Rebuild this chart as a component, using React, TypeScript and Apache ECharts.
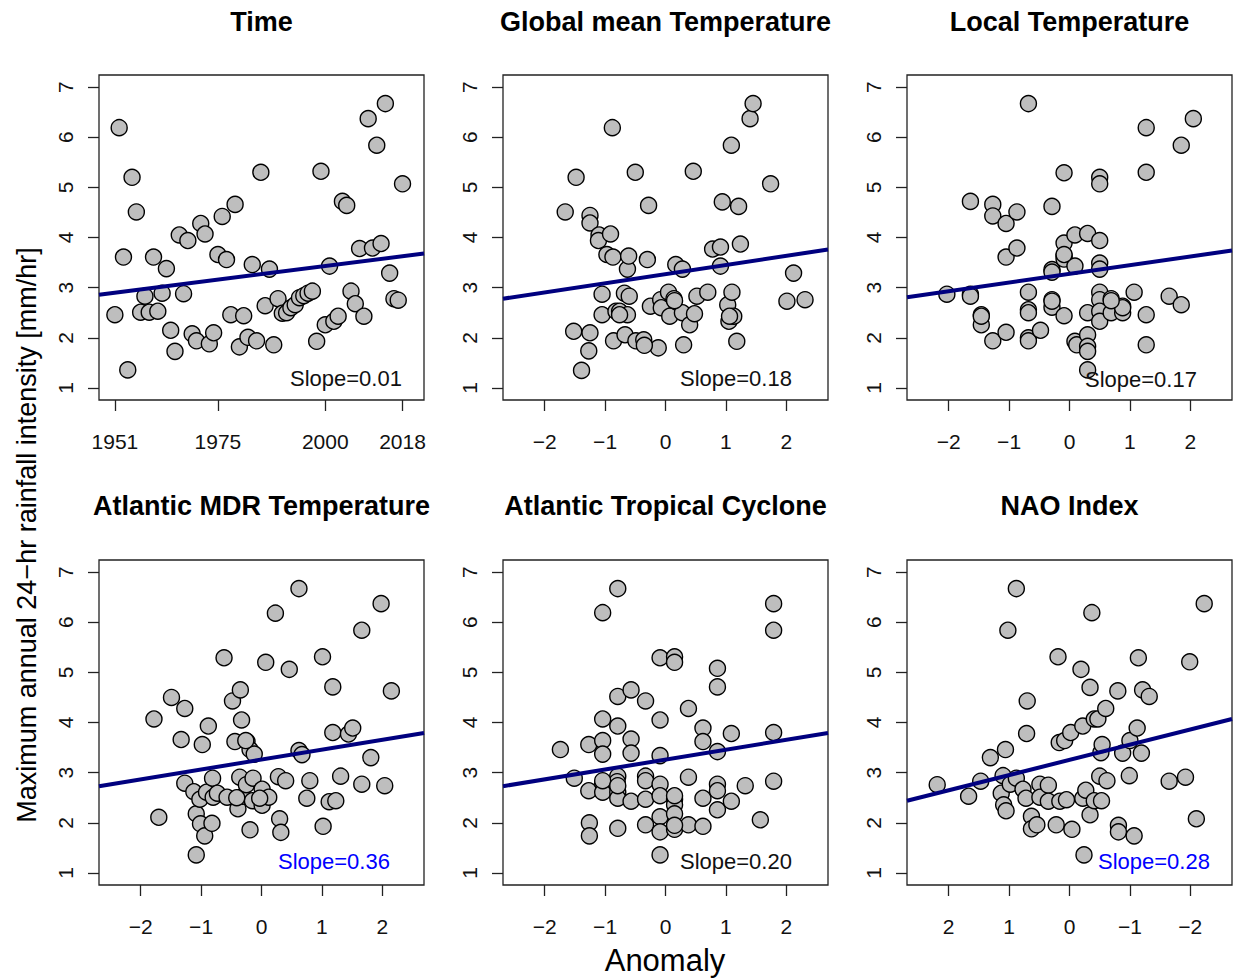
import React, { useEffect, useRef } from 'react';
import * as echarts from 'echarts';

// ---------------- data ----------------
const panelTitles = [
  'Time',
  'Global mean Temperature',
  'Local Temperature',
  'Atlantic MDR Temperature',
  'Atlantic Tropical Cyclone',
  'NAO Index',
];

const yearTicks = [1951, 1975, 2000, 2018];
const anomalyTicks = [-2, -1, 0, 1, 2];
const intensityTicks = [1, 2, 3, 4, 5, 6, 7];

const years = [
  1951, 1952, 1953, 1954, 1955, 1956, 1957, 1958, 1959, 1960,
  1961, 1962, 1963, 1964, 1965, 1966, 1967, 1968, 1969, 1970,
  1971, 1972, 1973, 1974, 1975, 1976, 1977, 1978, 1979, 1980,
  1981, 1982, 1983, 1984, 1985, 1986, 1987, 1988, 1989, 1990,
  1991, 1992, 1993, 1994, 1995, 1996, 1997, 1998, 1999, 2000,
  2001, 2002, 2003, 2004, 2005, 2006, 2007, 2008, 2009, 2010,
  2011, 2012, 2013, 2014, 2015, 2016, 2017, 2018,
];
const rainfall = [
  2.46, 6.19, 3.61, 1.36, 5.20, 4.51, 2.51, 2.83, 2.51, 3.61,
  2.53, 2.89, 3.38, 2.15, 1.73, 4.05, 2.88, 3.94, 2.08, 1.94,
  4.28, 4.07, 1.88, 2.10, 3.66, 4.42, 3.56, 2.46, 4.66, 1.82,
  2.44, 2.01, 3.46, 1.94, 5.30, 2.64, 3.37, 1.86, 2.78, 2.49,
  2.50, 2.60, 2.66, 2.80, 2.84, 2.89, 2.93, 1.93, 5.32, 2.26,
  3.43, 2.33, 2.43, 4.72, 4.64, 2.93, 2.68, 3.78, 2.43, 6.37,
  3.79, 5.84, 3.88, 6.67, 3.29, 2.78, 2.75, 5.07,
];

const gmtPoints = [
  [-1.66, 4.51], [-1.48, 5.20], [-1.52, 2.13], [-1.39, 1.35], [-1.27, 1.74], [-1.25, 2.10],
  [-1.25, 4.44], [-1.25, 4.29], [-1.10, 4.05], [-1.11, 3.94], [-0.91, 4.07], [-1.05, 2.87],
  [-1.05, 2.46], [-0.97, 3.66], [-0.87, 3.61], [-0.88, 6.19], [-0.86, 1.94], [-0.82, 2.53],
  [-0.76, 2.53], [-0.68, 2.89], [-0.67, 2.06], [-0.63, 3.37], [-0.61, 3.63], [-0.60, 2.83],
  [-0.63, 2.46], [-0.50, 5.30], [-0.49, 1.94], [-0.36, 1.96], [-0.30, 3.56], [-0.28, 4.64],
  [-0.25, 2.63], [-0.12, 1.80], [-0.08, 2.76], [-0.07, 2.60], [0.05, 2.91], [0.07, 2.43],
  [0.14, 2.78], [0.17, 3.46], [0.28, 3.37], [0.28, 2.50], [0.30, 1.86], [0.40, 2.26],
  [0.46, 5.32], [0.48, 2.48], [0.52, 2.83], [0.70, 2.91], [0.78, 3.77], [0.91, 3.81],
  [0.91, 3.43], [0.94, 4.71], [1.05, 2.33], [1.03, 2.66], [1.10, 2.91], [1.13, 2.43],
  [1.09, 5.84], [1.18, 1.93], [1.21, 4.62], [1.24, 3.87], [1.40, 6.37], [1.45, 6.67],
  [1.74, 5.07], [2.01, 2.73], [2.12, 3.29], [2.31, 2.76], [-0.35, 1.85], [0.15, 2.74],
  [1.06, 2.43], [-0.76, 2.46],
];

const localTPoints = [
  [-2.03, 2.87], [-1.64, 2.87], [-1.64, 2.83], [-1.64, 4.72], [-1.46, 2.46], [-1.46, 2.26],
  [-1.27, 4.66], [-1.27, 4.43], [-1.27, 1.94], [-1.05, 4.28], [-1.05, 3.61], [-1.05, 2.11],
  [-0.87, 4.51], [-0.87, 3.79], [-0.68, 6.67], [-0.68, 2.91], [-0.68, 2.56], [-0.68, 2.50],
  [-0.68, 2.00], [-0.68, 1.94], [-0.48, 2.15], [-0.29, 4.62], [-0.29, 3.36], [-0.29, 3.31],
  [-0.29, 2.76], [-0.29, 2.61], [-0.09, 5.29], [-0.09, 3.89], [-0.09, 3.63], [-0.09, 3.57],
  [-0.09, 2.44], [0.09, 4.05], [0.09, 3.43], [0.09, 1.93], [0.12, 1.86], [0.30, 4.08],
  [0.30, 2.50], [0.30, 2.06], [0.30, 1.83], [0.30, 1.73], [0.30, 1.36], [0.50, 5.20],
  [0.50, 5.07], [0.50, 3.94], [0.50, 3.49], [0.50, 3.37], [0.50, 2.91], [0.50, 2.76],
  [0.50, 2.53], [0.50, 2.33], [0.69, 2.78], [0.69, 2.50], [0.88, 2.63], [0.88, 2.50],
  [0.88, 2.60], [1.07, 2.91], [1.27, 6.19], [1.27, 5.30], [1.27, 2.46], [1.27, 1.86],
  [1.65, 2.83], [1.85, 2.66], [1.85, 5.84], [2.05, 6.37], [-0.09, 3.66], [-0.29, 2.73],
  [-1.46, 2.43], [0.69, 2.74],
];

const mdrPoints = [
  [-1.78, 4.07], [-1.70, 2.11], [-1.49, 4.50], [-1.33, 3.66], [-1.27, 4.28], [-1.27, 2.79],
  [-1.12, 2.62], [-1.08, 2.18], [-1.08, 1.36], [-1.02, 2.47], [-1.01, 1.98], [-0.98, 3.56],
  [-0.94, 1.74], [-0.91, 2.61], [-0.88, 3.93], [-0.82, 1.99], [-0.81, 2.89], [-0.80, 2.51],
  [-0.73, 2.59], [-0.62, 5.29], [-0.57, 2.51], [-0.48, 4.43], [-0.44, 3.62], [-0.39, 2.28],
  [-0.36, 2.91], [-0.35, 4.65], [-0.33, 4.05], [-0.31, 2.53], [-0.25, 2.76], [-0.24, 3.62],
  [-0.19, 3.46], [-0.19, 1.86], [-0.15, 2.44], [-0.14, 2.89], [-0.12, 3.37], [0.01, 2.67],
  [0.01, 2.35], [0.12, 2.51], [0.07, 5.20], [0.28, 2.92], [0.30, 2.08], [0.32, 1.81],
  [0.40, 2.84], [0.23, 6.18], [0.46, 5.06], [0.62, 6.67], [0.62, 3.44], [0.67, 3.36],
  [0.75, 2.49], [0.80, 2.84], [1.01, 5.31], [1.02, 1.93], [1.12, 2.42], [1.23, 2.44],
  [1.18, 4.71], [1.18, 3.80], [1.31, 2.93], [1.44, 3.77], [1.51, 3.89], [1.66, 5.84],
  [1.66, 2.77], [1.81, 3.30], [1.98, 6.37], [2.04, 2.74], [2.15, 4.63], [-0.03, 2.49],
  [-0.26, 3.64], [-0.41, 2.50],
];

const tcPoints = [
  [-1.74, 3.46], [-1.51, 2.89], [-1.27, 3.56], [-1.27, 2.64], [-1.26, 2.00], [-1.26, 1.74],
  [-1.04, 6.19], [-1.04, 4.07], [-1.04, 3.64], [-1.04, 3.37], [-1.04, 2.79], [-1.04, 2.61],
  [-0.79, 6.67], [-0.79, 4.52], [-0.79, 3.93], [-0.79, 2.93], [-0.79, 2.61], [-0.79, 2.49],
  [-0.79, 1.89], [-0.57, 4.65], [-0.57, 3.67], [-0.57, 3.39], [-0.57, 2.43], [-0.33, 4.43],
  [-0.33, 2.93], [-0.33, 2.84], [-0.33, 2.47], [-0.33, 1.96], [-0.09, 5.29], [-0.09, 4.05],
  [-0.09, 3.34], [-0.09, 2.77], [-0.09, 2.54], [-0.09, 2.12], [-0.09, 1.82], [-0.09, 1.36],
  [0.15, 5.31], [0.15, 5.20], [0.15, 2.47], [0.15, 2.36], [0.15, 2.18], [0.15, 1.87],
  [0.38, 4.28], [0.38, 2.91], [0.38, 1.96], [0.62, 3.89], [0.62, 3.62], [0.62, 2.49],
  [0.62, 1.93], [0.86, 5.08], [0.86, 4.71], [0.86, 3.42], [0.86, 2.77], [0.86, 2.64],
  [0.86, 2.26], [1.09, 3.78], [1.09, 2.43], [1.32, 2.74], [1.57, 2.06], [1.79, 6.37],
  [1.79, 5.84], [1.79, 3.80], [1.79, 2.83], [0.15, 2.54], [-0.80, 2.82], [0.15, 1.95],
  [-1.04, 2.84], [-0.79, 2.74],
];

const naoPoints = [
  [2.19, 2.76], [1.67, 2.53], [1.47, 2.83], [1.31, 3.30], [1.13, 2.59], [1.10, 2.94],
  [1.09, 2.36], [1.06, 3.46], [1.05, 2.24], [1.02, 5.84], [0.98, 2.77], [0.88, 6.67],
  [0.88, 2.89], [0.77, 2.67], [0.72, 2.49], [0.71, 3.78], [0.70, 4.43], [0.63, 2.13],
  [0.63, 1.88], [0.54, 1.96], [0.49, 2.77], [0.49, 2.51], [0.35, 2.75], [0.35, 2.43],
  [0.22, 1.96], [0.19, 5.31], [0.17, 3.60], [0.16, 2.43], [0.08, 3.64], [0.05, 2.46],
  [-0.02, 3.80], [-0.04, 1.87], [-0.19, 5.06], [-0.22, 3.93], [-0.22, 2.49], [-0.24, 1.36],
  [-0.27, 2.65], [-0.34, 4.70], [-0.34, 2.16], [-0.37, 6.19], [-0.41, 4.07], [-0.41, 2.44],
  [-0.47, 4.07], [-0.50, 2.93], [-0.52, 3.40], [-0.53, 2.44], [-0.54, 3.56], [-0.60, 4.28],
  [-0.62, 2.84], [-0.80, 4.63], [-0.81, 1.95], [-0.81, 1.82], [-0.88, 3.39], [-0.99, 2.94],
  [-1.00, 3.64], [-1.07, 1.74], [-1.12, 3.89], [-1.14, 5.29], [-1.19, 3.39], [-1.21, 4.65],
  [-1.32, 4.52], [-1.65, 2.83], [-1.92, 2.91], [-1.99, 5.21], [-2.10, 2.08], [-2.23, 6.37],
  [2.85, 2.50],
];

// fitted line values at the x-axis minimum and maximum of each panel
const timeFit = [2.86, 3.68];
const gmtFit = [2.78, 3.76];
const localTFit = [2.81, 3.74];
const mdrFit = [2.73, 3.79];
const tcFit = [2.73, 3.79];
const naoFit = [4.07, 2.44];

const slopeLabels = ['Slope=0.01', 'Slope=0.18', 'Slope=0.17', 'Slope=0.36', 'Slope=0.20', 'Slope=0.28'];
const slopeSignificant = [false, false, false, true, false, true];

const timeRange = [1947.3, 2023.0];
const anomalyRange = [-2.69, 2.69];
const intensityRange = [0.76, 7.24];

// ---------------- layout / style ----------------
const FONT = '"Liberation Sans", Arial, Helvetica, sans-serif';
const COL_LEFT = [99, 503, 907];
const ROW_TOP = [75, 560];
const BOX = 325;
const SLOPE_POS = [
  [290, 378], [680, 378], [1085, 379],
  [278, 861], [680, 861], [1098, 861],
];

const minus = (v: number) => String(v).replace('-', '\u2212');

export default function App() {
  const ref = useRef<HTMLDivElement>(null);

  useEffect(() => {
    if (!ref.current) return;
    const chart = echarts.init(ref.current, null, { renderer: 'svg' });

    const timePoints = years.map((y, i) => [y, rainfall[i]]);
    const panelData = [timePoints, gmtPoints, localTPoints, mdrPoints, tcPoints, naoPoints];
    const fits = [timeFit, gmtFit, localTFit, mdrFit, tcFit, naoFit];

    const grids: any[] = [];
    const xAxes: any[] = [];
    const yAxes: any[] = [];
    const series: any[] = [];
    const graphics: any[] = [];

    for (let i = 0; i < 6; i++) {
      const row = Math.floor(i / 3);
      const col = i % 3;
      const left = COL_LEFT[col];
      const top = ROW_TOP[row];
      const isTime = i === 0;
      const xr = isTime ? timeRange : anomalyRange;

      grids.push({
        left, top, width: BOX, height: BOX,
        show: true, borderColor: '#222', borderWidth: 1.3, backgroundColor: 'transparent',
        containLabel: false,
      });

      xAxes.push({
        type: 'value', gridIndex: i, min: xr[0], max: xr[1], inverse: i === 5,
        position: 'bottom',
        splitLine: { show: false },
        axisLine: { show: false, onZero: false },
        axisTick: {
          show: true, inside: false, length: 11,
          customValues: isTime ? yearTicks : anomalyTicks,
          lineStyle: { color: '#222', width: 1.3 },
        },
        axisLabel: {
          show: true, margin: 31, fontSize: 21, fontFamily: FONT, color: '#111',
          customValues: isTime ? yearTicks : anomalyTicks,
          formatter: (v: number) => (isTime ? String(v) : minus(v)),
        },
      });

      yAxes.push({
        type: 'value', gridIndex: i, min: intensityRange[0], max: intensityRange[1],
        position: 'left',
        splitLine: { show: false },
        axisLine: { show: false, onZero: false },
        axisTick: {
          show: true, inside: false, length: 11, customValues: intensityTicks,
          lineStyle: { color: '#222', width: 1.3 },
        },
        axisLabel: {
          show: true, rotate: 90, margin: 23, fontSize: 21, fontFamily: FONT, color: '#111',
          customValues: intensityTicks,
          formatter: (v: number) => String(v),
        },
      });

      series.push({
        type: 'scatter', xAxisIndex: i, yAxisIndex: i,
        data: panelData[i],
        symbol: 'circle', symbolSize: 16,
        itemStyle: { color: '#BEBEBE', borderColor: '#000', borderWidth: 1.4, opacity: 1 },
        clip: true,
        z: 2,
      });

      series.push({
        type: 'line', xAxisIndex: i, yAxisIndex: i,
        data: [[xr[0], fits[i][0]], [xr[1], fits[i][1]]],
        symbol: 'none', showSymbol: false,
        lineStyle: { color: '#00007F', width: 4 },
        clip: true,
        z: 3,
      });

      graphics.push({
        type: 'text', x: left + BOX / 2, y: row === 0 ? 22 : 506,
        style: {
          text: panelTitles[i], fontSize: 27, fontWeight: 'bold', fontFamily: FONT, fill: '#000',
          align: 'center', verticalAlign: 'middle',
        },
      });

      graphics.push({
        type: 'text', x: SLOPE_POS[i][0], y: SLOPE_POS[i][1], z: 10,
        style: {
          text: slopeLabels[i], fontSize: 22, fontFamily: FONT,
          fill: slopeSignificant[i] ? '#0000FF' : '#111',
          align: 'left', verticalAlign: 'middle',
        },
      });
    }

    graphics.push({
      type: 'text', x: 27, y: 535, rotation: Math.PI / 2,
      style: {
        text: 'Maximum annual 24\u2212hr rainfall intensity [mm/hr]',
        fontSize: 27, fontFamily: FONT, fill: '#000', align: 'center', verticalAlign: 'middle',
      },
    });
    graphics.push({
      type: 'text', x: 665, y: 960,
      style: {
        text: 'Anomaly', fontSize: 31, fontFamily: FONT, fill: '#000',
        align: 'center', verticalAlign: 'middle',
      },
    });

    chart.setOption({
      animation: false,
      backgroundColor: '#ffffff',
      grid: grids,
      xAxis: xAxes,
      yAxis: yAxes,
      series,
      graphic: graphics,
    });

    return () => chart.dispose();
  }, []);

  return (
    <div
      ref={ref}
      style={{ position: 'absolute', left: 0, top: 0, width: 1233, height: 979 }}
    />
  );
}
